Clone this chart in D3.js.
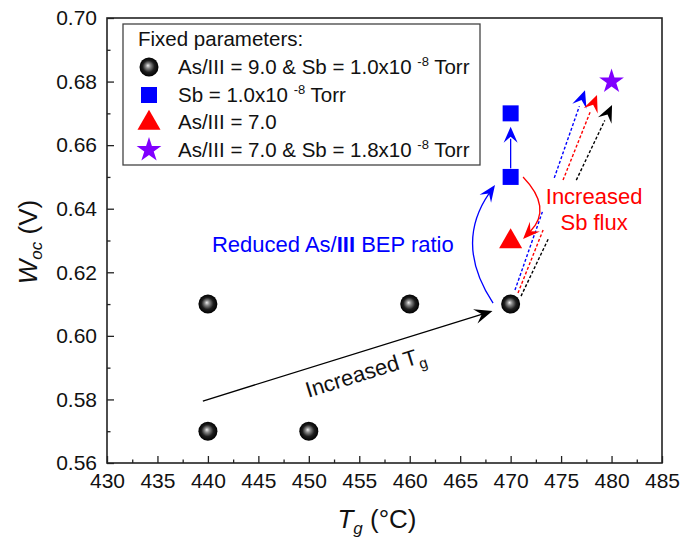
<!DOCTYPE html>
<html>
<head>
<meta charset="utf-8">
<script src="https://cdn.jsdelivr.net/npm/d3@7"></script>
<style>
  body { margin: 0; background: #fff; }
  text { font-family: "Liberation Sans", Arial, sans-serif; }
</style>
</head>
<body>
<svg id="chart" width="697" height="540"></svg>
<script>
// data
const sphereT = [440, 440, 450, 460, 470]
const sphereV = [0.61, 0.57, 0.57, 0.61, 0.61]
const squareT = [470, 470]
const squareV = [0.65, 0.67]
const triT = [470]
const triV = [0.63]
const starT = [480]
const starV = [0.68]

const xTicks = [430, 435, 440, 445, 450, 455, 460, 465, 470, 475, 480, 485]
const yTicks = [0.56, 0.58, 0.60, 0.62, 0.64, 0.66, 0.68, 0.70]

const legendLabels = [
    ["As/III = 9.0 & Sb = 1.0x10", "-8", " Torr"],
    ["Sb = 1.0x10", "-8", " Torr"],
    ["As/III = 7.0", "", ""],
    ["As/III = 7.0 & Sb = 1.8x10", "-8", " Torr"]
]

// annotation arrows, in data units [T, Woc]
const dashedLines = [
    {color: "#0000ff", from: [470.43, 0.6144], to: [477.37, 0.6773], gap: [0.639, 0.6497]},
    {color: "#ff0000", from: [470.73, 0.6135], to: [478.56, 0.6758], gap: [0.6333, 0.649]},
    {color: "#000000", from: [471.03, 0.6125], to: [480.05, 0.6726], gap: [0.6308, 0.649]}
]
const curves = [
    {color: "#0000ff", p0: [468.26, 0.6103], c: [464.39, 0.6289], p2: [468.45, 0.6475]},
    {color: "#ff0000", p0: [471.23, 0.6500], c: [474.2, 0.6402], p2: [471.23, 0.6305]}
]

let svg = d3.select("#chart")
let x = d3.scaleLinear().domain([430, 485]).range([107, 662])
let y = d3.scaleLinear().domain([0.56, 0.70]).range([463, 18])

let defs = svg.append("defs")
let grad = defs.append("radialGradient").attr("id", "ball")
    .attr("cx", "50%").attr("cy", "50%").attr("r", "50%")
    .attr("fx", "44%").attr("fy", "42%")
grad.append("stop").attr("offset", "0%").attr("stop-color", "#eeeeee")
grad.append("stop").attr("offset", "25%").attr("stop-color", "#8a8a8a")
grad.append("stop").attr("offset", "62%").attr("stop-color", "#1e1e1e")
grad.append("stop").attr("offset", "100%").attr("stop-color", "#000")

// axes, ticks pointing inward
let xAxis = d3.axisBottom(x).tickValues(xTicks).tickSizeInner(-7).tickSizeOuter(0).tickPadding(10)
let yAxis = d3.axisLeft(y).tickValues(yTicks).tickSizeInner(-7).tickSizeOuter(0).tickPadding(10)
    .tickFormat(d3.format(".2f"))

svg.append("g").attr("transform", "translate(0,463)").call(xAxis)
svg.append("g").attr("transform", "translate(107,0)").call(yAxis)
svg.append("g").attr("transform", "translate(0,463)")
    .call(d3.axisBottom(x).tickValues(d3.range(432.5, 485, 5)).tickSize(-3.5).tickFormat(""))
svg.append("g").attr("transform", "translate(107,0)")
    .call(d3.axisLeft(y).tickValues(d3.range(0.57, 0.70, 0.02)).tickSize(-3.5).tickFormat(""))

svg.selectAll(".domain").remove()
svg.selectAll(".tick line").attr("stroke", "#222").attr("stroke-width", 1.3)
svg.selectAll(".tick text").attr("font-size", "21px").attr("fill", "#111")
    .style("font-family", "'Liberation Sans', Arial, sans-serif")

svg.append("rect")
    .attr("x", 107).attr("y", 18).attr("width", 662 - 107).attr("height", 463 - 18)
    .attr("fill", "none").attr("stroke", "#222").attr("stroke-width", 1.6)

// axis titles
let yt = svg.append("text")
    .attr("transform", "translate(37,242) rotate(-90)")
    .attr("text-anchor", "middle").attr("font-size", "26px").attr("fill", "#111")
yt.append("tspan").text("W").attr("font-style", "italic")
yt.append("tspan").text("oc").attr("font-style", "italic").attr("font-size", "17px").attr("dy", 5)
yt.append("tspan").text(" (V)").attr("dy", -5)

let xt = svg.append("text")
    .attr("x", 377).attr("y", 528)
    .attr("text-anchor", "middle").attr("font-size", "26px").attr("fill", "#111")
xt.append("tspan").text("T").attr("font-style", "italic")
xt.append("tspan").text("g").attr("font-style", "italic").attr("font-size", "17px").attr("dy", 6)
xt.append("tspan").text(" (°C)").attr("dy", -6)

// arrowhead with notched back, like Origin draws them
function arrowHead(tip, ang, color, L = 15, W = 12) {
    let ux = Math.cos(ang), uy = Math.sin(ang)
    let nx = -uy, ny = ux
    let pts = [
        [tip[0], tip[1]],
        [tip[0] - L * ux + W / 2 * nx, tip[1] - L * uy + W / 2 * ny],
        [tip[0] - 0.62 * L * ux, tip[1] - 0.62 * L * uy],
        [tip[0] - L * ux - W / 2 * nx, tip[1] - L * uy - W / 2 * ny]
    ]
    svg.append("path").attr("d", "M" + pts.join("L") + "Z").attr("fill", color)
}

// dashed arrows (broken around the "Increased Sb flux" label)
dashedLines.forEach(d => {
    let x0 = x(d.from[0]), y0 = y(d.from[1]), x1 = x(d.to[0]), y1 = y(d.to[1])
    let at = v => (y(v) - y0) / (y1 - y0)
    let t0 = at(d.gap[0]), t1 = at(d.gap[1])
    let segs = [[0, t0], [t1, 0.92]]
    segs.forEach(s => {
        svg.append("line")
            .attr("x1", x0 + (x1 - x0) * s[0]).attr("y1", y0 + (y1 - y0) * s[0])
            .attr("x2", x0 + (x1 - x0) * s[1]).attr("y2", y0 + (y1 - y0) * s[1])
            .attr("stroke", d.color).attr("stroke-width", 1.4).attr("stroke-dasharray", "3,2")
    })
    arrowHead([x1, y1], Math.atan2(y1 - y0, x1 - x0), d.color, 17, 15)
})

// curved arrows
curves.forEach(d => {
    let p0 = [x(d.p0[0]), y(d.p0[1])], c = [x(d.c[0]), y(d.c[1])], p2 = [x(d.p2[0]), y(d.p2[1])]
    let ang = Math.atan2(p2[1] - c[1], p2[0] - c[0])
    let end = [p2[0] - 10 * Math.cos(ang), p2[1] - 10 * Math.sin(ang)]
    svg.append("path")
        .attr("d", `M${p0}Q${c} ${end}`)
        .attr("fill", "none").attr("stroke", d.color).attr("stroke-width", 1.3)
    arrowHead(p2, ang, d.color, 17, 14)
})

// straight blue arrow between the two squares
svg.append("line")
    .attr("x1", x(470)).attr("y1", y(0.6527)).attr("x2", x(470)).attr("y2", y(0.6620))
    .attr("stroke", "#0000ff").attr("stroke-width", 1.3)
arrowHead([x(470), y(0.6658)], -Math.PI / 2, "#0000ff", 16, 14)

// increased Tg arrow
let tgFrom = [x(439.5), y(0.5795)], tgTo = [x(468.2), y(0.6078)]
let tgAng = Math.atan2(tgTo[1] - tgFrom[1], tgTo[0] - tgFrom[0])
svg.append("line")
    .attr("x1", tgFrom[0]).attr("y1", tgFrom[1])
    .attr("x2", tgTo[0] - 8 * Math.cos(tgAng)).attr("y2", tgTo[1] - 8 * Math.sin(tgAng))
    .attr("stroke", "#000").attr("stroke-width", 1.3)
arrowHead(tgTo, tgAng, "#000", 18, 15)

let tgText = svg.append("text")
    .attr("transform", `translate(${x(455.6)},${y(0.5886)}) rotate(${tgAng * 180 / Math.PI})`)
    .attr("text-anchor", "middle").attr("font-size", "22px").attr("fill", "#111")
    .attr("dy", "0.35em")
tgText.append("tspan").text("Increased T")
tgText.append("tspan").text("g").attr("font-size", "15px").attr("dy", 6)

// markers
svg.selectAll(".ball").data(sphereT).join("circle")
    .attr("class", "ball")
    .attr("cx", d => x(d)).attr("cy", (d, i) => y(sphereV[i]))
    .attr("r", 9.5).attr("fill", "url(#ball)")

svg.selectAll(".sq").data(squareT).join("rect")
    .attr("class", "sq")
    .attr("x", d => x(d) - 8).attr("y", (d, i) => y(squareV[i]) - 8)
    .attr("width", 16).attr("height", 16).attr("fill", "#0000ff")

let tri = d3.symbol().type(d3.symbolTriangle).size(230)
svg.selectAll(".tri").data(triT).join("path")
    .attr("class", "tri")
    .attr("transform", (d, i) => `translate(${x(d)},${y(triV[i]) + 1})`)
    .attr("d", tri).attr("fill", "#ff0000")

let star = d3.symbol().type(d3.symbolStar).size(190)
svg.selectAll(".star").data(starT).join("path")
    .attr("class", "star")
    .attr("transform", (d, i) => `translate(${x(d)},${y(starV[i])})`)
    .attr("d", star).attr("fill", "#8000ff")

// annotation texts
let rt = svg.append("text")
    .attr("x", x(440.4)).attr("y", y(0.6264))
    .attr("font-size", "22px").attr("fill", "#0000ff")
rt.append("tspan").text("Reduced As/")
rt.append("tspan").text("III").attr("font-weight", "bold")
rt.append("tspan").text(" BEP ratio")

svg.append("text").attr("x", x(478.27)).attr("y", y(0.6415))
    .attr("text-anchor", "middle").attr("font-size", "22px").attr("fill", "#ff0000")
    .text("Increased")
svg.append("text").attr("x", x(478.27)).attr("y", y(0.6333))
    .attr("text-anchor", "middle").attr("font-size", "22px").attr("fill", "#ff0000")
    .text("Sb flux")

// legend
let lg = svg.append("g")
lg.append("rect")
    .attr("x", 123).attr("y", 24).attr("width", 357).attr("height", 141)
    .attr("fill", "#fff").attr("stroke", "#444").attr("stroke-width", 1.3)
lg.append("text").attr("x", 138).attr("y", 46).attr("font-size", "20.5px").attr("fill", "#111")
    .text("Fixed parameters:")

let rowY = [74, 102, 129, 157]
legendLabels.forEach((lab, i) => {
    let t = lg.append("text").attr("x", 178).attr("y", rowY[i]).attr("font-size", "20.5px").attr("fill", "#111")
    t.append("tspan").text(lab[0])
    if (lab[1]) {
        t.append("tspan").text(" ")
        t.append("tspan").text(lab[1]).attr("font-size", "13px").attr("dy", -8)
        t.append("tspan").text(lab[2]).attr("dy", 8)
    }
})
let mx = 149
lg.append("circle").attr("cx", mx).attr("cy", rowY[0] - 7).attr("r", 9.5).attr("fill", "url(#ball)")
lg.append("rect").attr("x", mx - 8).attr("y", rowY[1] - 15).attr("width", 16).attr("height", 16).attr("fill", "#0000ff")
lg.append("path").attr("transform", `translate(${mx},${rowY[2] - 6})`).attr("d", tri).attr("fill", "#ff0000")
lg.append("path").attr("transform", `translate(${mx},${rowY[3] - 7})`).attr("d", star).attr("fill", "#8000ff")
</script>
</body>
</html>
